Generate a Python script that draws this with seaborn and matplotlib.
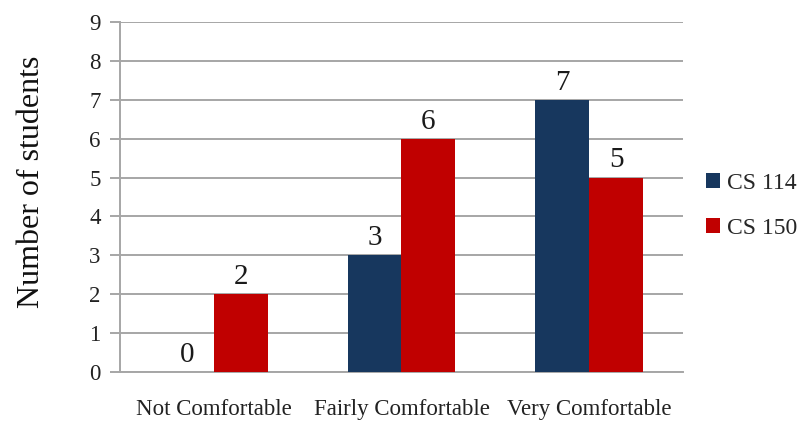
import pandas as pd
import matplotlib.pyplot as plt
import seaborn as sns

categories = ['Not Comfortable', 'Fairly Comfortable', 'Very Comfortable']
cs114 = [0, 3, 7]
cs150 = [2, 6, 5]
courses = ['CS 114', 'CS 150']
colors = ['#17375E', '#C00000']

df = pd.DataFrame({
    'Comfort': categories * 2,
    'Course': [courses[0]] * 3 + [courses[1]] * 3,
    'Students': cs114 + cs150,
})

sns.set_style('white')
plt.rcParams['font.family'] = ['Liberation Serif', 'DejaVu Serif']

fig = plt.figure(figsize=(8.07, 4.25), dpi=100)
ax = fig.add_axes([0.1487, 0.1247, 0.6976, 0.8233])

sns.barplot(data=df, x='Comfort', y='Students', hue='Course', order=categories,
            hue_order=courses, palette=colors, width=0.574, gap=0,
            saturation=1, linewidth=0, ax=ax, zorder=3)

for cont in ax.containers:
    ax.bar_label(cont, fmt='%d', padding=3, fontsize=21, color='#1a1a1a')

ax.set_ylim(0, 9)
ax.set_xlim(-0.5, 2.5)
ax.set_yticks(range(10))
ax.yaxis.grid(True, color='#A6A6A6', linewidth=1.4, zorder=0)
ax.set_axisbelow(True)
for s in ['top', 'right']:
    ax.spines[s].set_visible(False)
ax.spines['left'].set_color('#A6A6A6')
ax.spines['left'].set_linewidth(1.4)
ax.spines['bottom'].set_color('#A6A6A6')
ax.spines['bottom'].set_linewidth(1.4)
ax.tick_params(axis='y', which='major', left=True, length=7, width=1.4,
               color='#A6A6A6', labelsize=16.5, pad=7, labelcolor='#222222')
ax.tick_params(axis='x', bottom=False, labelsize=16.5, pad=16, labelcolor='#222222')

ax.set_xlabel('')
ax.set_ylabel('Number of students', fontsize=23, labelpad=31, color='#111111')
ax.yaxis.label.set_y(0.543)

ax.legend(loc='center left', bbox_to_anchor=(1.02, 0.475), frameon=False,
          fontsize=17, handlelength=0.6, handleheight=0.6, handletextpad=0.3,
          labelspacing=1.0, borderpad=0, borderaxespad=0.5)

fig.savefig('out.png', dpi=100)
